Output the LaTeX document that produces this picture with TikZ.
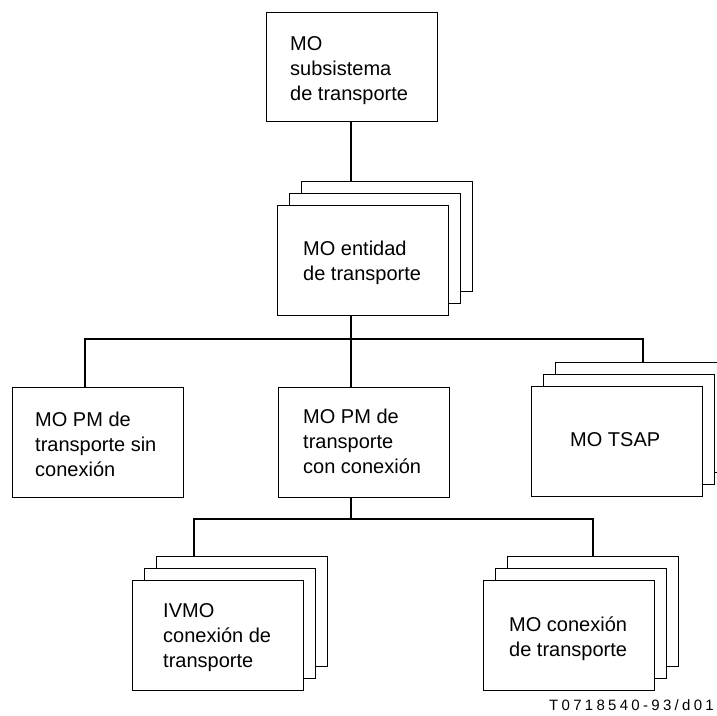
\documentclass[tikz,border=0pt]{standalone}
\usepackage{fontspec}
\setmainfont{Liberation Sans}
\begin{document}
\begin{tikzpicture}[x=1pt,y=-1pt,
  box/.style={draw,fill=white,line width=0.9pt,minimum width=171pt,minimum height=110pt,inner sep=0pt},
  txt/.style={anchor=north west,inner sep=0pt,align=left,font=\fontsize{20}{25}\selectfont},
  conn/.style={line width=1.8pt},
  reflabel/.style={anchor=base east,inner sep=0pt,font=\fontsize{15}{17}\selectfont\addfontfeature{LetterSpace=22}}]
\useasboundingbox (0,0) rectangle (717,715);
% top
\node[box,minimum height=109pt] (sub) at (351.5,66.5) {};
\node[txt] (tsub) at (290,32.5) {\strut MO\\subsistema\\de transporte};
% entity stack
\node[box] (ent3) at (387,236) {};
\node[box] (ent2) at (375,248) {};
\node[box] (ent1) at (363,260) {};
\node[txt] (tent) at (303,237.5) {\strut MO entidad\\de transporte};
% second row
\node[box] (pmsin) at (97.5,442) {};
\node[txt] (tpmsin) at (35,408.5) {\strut MO PM de\\transporte sin\\conexión};
\node[box] (pmcon) at (363.5,442) {};
\node[txt] (tpmcon) at (303,405.5) {\strut MO PM de\\transporte\\con conexión};
\begin{scope}
  \clip (0,0) rectangle (717,715);
  \node[box] (tsap3) at (641,417.5) {};
\end{scope}
\node[box] (tsap2) at (629,429.5) {};
\node[box] (tsap1) at (617,441.5) {};
\node[txt] (ttsap) at (570,428.5) {\strut MO TSAP};
% third row
\node[box] (ivmo3) at (241.5,611.5) {};
\node[box] (ivmo2) at (229.5,623.5) {};
\node[box] (ivmo1) at (217.5,635.5) {};
\node[txt] (tivmo) at (163,600) {\strut IVMO\\conexión de\\transporte};
\node[box] (con3) at (592.5,611.5) {};
\node[box] (con2) at (580.5,623.5) {};
\node[box] (con1) at (568.5,635.5) {};
\node[txt] (tcon) at (509,614) {\strut MO conexión\\de transporte};
\node[reflabel] (ref) at (714,710) {T0718540-93/d01};
% connectors
\coordinate (vx) at (351,0);
\coordinate (busL) at (85,339);
\coordinate (busR) at (643,339);
\coordinate (bus2L) at (194,519);
\coordinate (bus2R) at (593,519);
\draw[conn] (vx |- sub.south) -- (vx |- ent3.north);
\draw[conn] (vx |- ent1.south) -- (vx |- pmcon.north);
\draw[conn] (pmsin.north -| busL) |- (busR) -- (busR |- tsap3.north);
\draw[conn] (vx |- pmcon.south) -- (vx |- bus2L);
\draw[conn] (ivmo3.north -| bus2L) |- (bus2R) -- (bus2R |- con3.north);
\end{tikzpicture}
\end{document}
